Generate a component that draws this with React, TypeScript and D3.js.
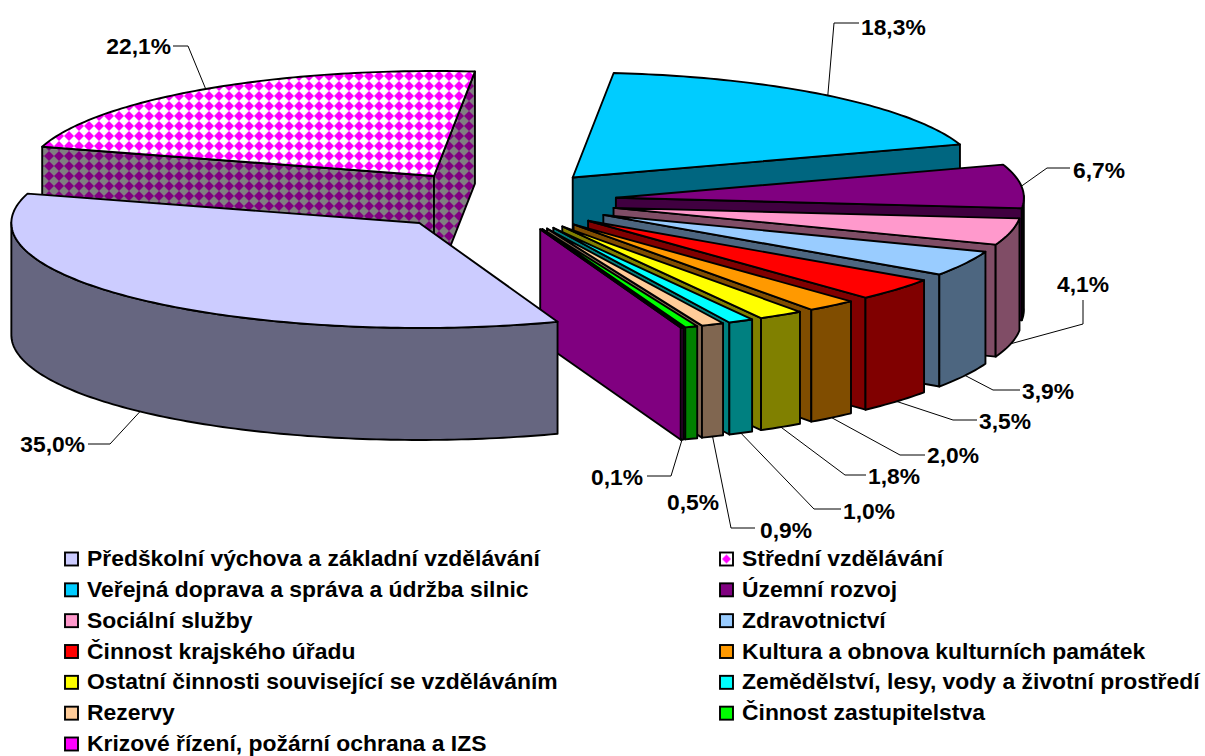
import React from "react";
import * as d3 from "d3";

const categories = [
  "Předškolní výchova a základní vzdělávání",
  "Střední vzdělávání",
  "Veřejná doprava a správa a údržba silnic",
  "Územní rozvoj",
  "Sociální služby",
  "Zdravotnictví",
  "Činnost krajského úřadu",
  "Kultura a obnova kulturních památek",
  "Ostatní činnosti související se vzděláváním",
  "Zemědělství, lesy, vody a životní prostředí",
  "Rezervy",
  "Činnost zastupitelstva",
  "Krizové řízení, požární ochrana a IZS",
];
const values = [35.0, 22.1, 18.3, 6.7, 4.1, 3.9, 3.5, 2.0, 1.8, 1.0, 0.9, 0.5, 0.1];
const topColors = ["#CCCCFF", "url(#pTop)", "#00CCFF", "#800080", "#FF99CC", "#99CCFF", "#FF0000", "#FF9900", "#FFFF00", "#00FFFF", "#FFCC99", "#00FF00", "#FF00FF"];
const wallColors = ["#666680", "url(#pWall)", "#006680", "#400040", "#804D66", "#4D6680", "#800000", "#804D00", "#808000", "#008080", "#806650", "#008000", "#800080"];
const legendFills = ["#CCCCFF", "url(#pLegend)", "#00CCFF", "#800080", "#FF99CC", "#99CCFF", "#FF0000", "#FF9900", "#FFFF00", "#00FFFF", "#FFCC99", "#00FF00", "#FF00FF"];

// Leader routing and label position for each slice: [label x, label y, anchor, elbow x, elbow y, line end x, line end y]
const labelLayout: [number, number, string, number, number, number, number][] = [
  [85, 444, "end", 110, 444, 88, 444],
  [171, 46, "end", 188, 46, 173, 46],
  [861, 27, "start", 834, 23, 859, 23],
  [1073, 170, "start", 1047, 168, 1070, 168],
  [1083, 284, "middle", 1083, 324, 1083, 300],
  [1022, 391, "start", 993, 390, 1020, 390],
  [979, 421, "start", 953, 420, 977, 420],
  [927, 455, "start", 900, 455, 925, 455],
  [868, 476, "start", 845, 475, 866, 475],
  [843, 511, "start", 814, 509, 841, 509],
  [760, 530, "start", 731, 528, 755, 528],
  [693, 502, "middle", NaN, NaN, NaN, NaN],
  [617, 477, "middle", 671, 476, 647, 476],
];

const CX = 499.5, CY = 201, RX = 408, RY = 105, DEPTH = 112, EXPLODE = 0.287;
const START = 160.2;
const LINE = 1.9;

const deg = (d: number) => (d * Math.PI) / 180;
const pie = d3.pie<number>().sort(null).startAngle(deg(START)).endAngle(deg(START + 3.6 * d3.sum(values)));
const arcs = pie(values);
const xOf = d3.scaleLinear().domain([-1, 1]).range([-RX, RX]);
const yOf = d3.scaleLinear().domain([-1, 1]).range([RY, -RY]);
const line = d3.line<[number, number]>();

function sliceGeom(i: number) {
  const a = arcs[i];
  const mid = (a.startAngle + a.endAngle) / 2;
  const ax = CX + xOf(Math.sin(mid)) * EXPLODE;
  const ay = CY + yOf(Math.cos(mid)) * EXPLODE;
  const at = (t: number): [number, number] => [ax + xOf(Math.sin(t)), ay + yOf(Math.cos(t))];
  const steps = Math.max(2, Math.ceil((a.endAngle - a.startAngle) / deg(1)));
  const samples = d3.range(steps + 1).map((k) => a.startAngle + ((a.endAngle - a.startAngle) * k) / steps);
  return { a, mid, ax, ay, at, samples };
}

const drop = (p: [number, number]): [number, number] => [p[0], p[1] + DEPTH];

function Slice({ i }: { i: number }) {
  const { a, ax, ay, at, samples } = sliceGeom(i);
  const apex: [number, number] = [ax, ay];
  const s = at(a.startAngle);
  const e = at(a.endAngle);
  const stroke = { stroke: "#000", strokeWidth: LINE, strokeLinejoin: "round" as const };
  // a radial wall is drawn only when its outward normal points towards the viewer
  const startVisible = Math.sin(a.startAngle) < 0;
  const endVisible = Math.sin(a.endAngle) > 0;
  const front = samples.filter((t) => Math.cos(t) <= 0.02);
  const arcPts = samples.map(at);
  return (
    <g>
      {startVisible && <path d={line([apex, s, drop(s), drop(apex)]) + "Z"} fill={wallColors[i]} {...stroke} />}
      {endVisible && <path d={line([apex, e, drop(e), drop(apex)]) + "Z"} fill={wallColors[i]} {...stroke} />}
      {front.length > 1 && (
        <path
          d={line([...front.map(at), ...front.map(at).reverse().map(drop)]) + "Z"}
          fill={wallColors[i]}
          {...stroke}
        />
      )}
      <path d={line([apex, ...arcPts]) + "Z"} fill={topColors[i]} {...stroke} />
    </g>
  );
}

function Leader({ i }: { i: number }) {
  const [tx, ty, anchor, ex, ey, fx, fy] = labelLayout[i];
  const { mid, at } = sliceGeom(i);
  const p = at(mid);
  const start = Math.cos(mid) < 0 ? drop(p) : p;
  return (
    <g>
      {!Number.isNaN(ex) && (
        <path d={line([start, [ex, ey], [fx, fy]]) ?? ""} fill="none" stroke="#000" strokeWidth={1} />
      )}
      <text x={tx} y={ty + 8} textAnchor={anchor as any} fontSize={22.8} fontWeight="bold" fill="#000">
        {values[i].toFixed(1).replace(".", ",")}%
      </text>
    </g>
  );
}

const drawOrder = [...d3.range(1, values.length), 0];
const legendX = d3.scalePoint<number>().domain([0, 1]).range([65, 720]);
const legendY = d3.scaleLinear().domain([0, 6]).range([559, 744]);
const CELL = 10;

export default function App() {
  return (
    <svg
      width={1205}
      height={756}
      style={{ position: "absolute", left: 0, top: 0, fontFamily: "'Liberation Sans', Arial, sans-serif" }}
    >
      <defs>
        <pattern id="pTop" width={CELL} height={CELL} patternUnits="userSpaceOnUse" patternTransform="translate(4 1)">
          <rect width={CELL} height={CELL} fill="#fff" />
          <path d={`M${CELL / 2} 0L${CELL} ${CELL / 2}L${CELL / 2} ${CELL}L0 ${CELL / 2}Z`} fill="#FF00FF" />
        </pattern>
        <pattern id="pWall" width={CELL} height={CELL} patternUnits="userSpaceOnUse" patternTransform="translate(4 1)">
          <rect width={CELL} height={CELL} fill="#808080" />
          <path d={`M${CELL / 2} 0L${CELL} ${CELL / 2}L${CELL / 2} ${CELL}L0 ${CELL / 2}Z`} fill="#800080" />
        </pattern>
        <pattern id="pLegend" width={13} height={13} patternUnits="userSpaceOnUse" patternTransform="translate(720 552.5)">
          <rect width={13} height={13} fill="#fff" />
          <path d="M6.5 2L11 6.5L6.5 11L2 6.5Z" fill="#FF00FF" />
        </pattern>
      </defs>
      {drawOrder.map((i) => (
        <Slice key={i} i={i} />
      ))}
      {values.map((_, i) => (
        <Leader key={i} i={i} />
      ))}
      {categories.map((c, i) => {
        const col = i % 2;
        const row = Math.floor(i / 2);
        const x = legendX(col)!;
        const y = legendY(row);
        return (
          <g key={c}>
            <rect x={x} y={y - 6.5} width={13} height={13} fill={legendFills[i]} stroke="#000" strokeWidth={LINE} />
            <text x={x + 22} y={y + 7} fontSize={22.9} fontWeight="bold" fill="#000">
              {c}
            </text>
          </g>
        );
      })}
    </svg>
  );
}
